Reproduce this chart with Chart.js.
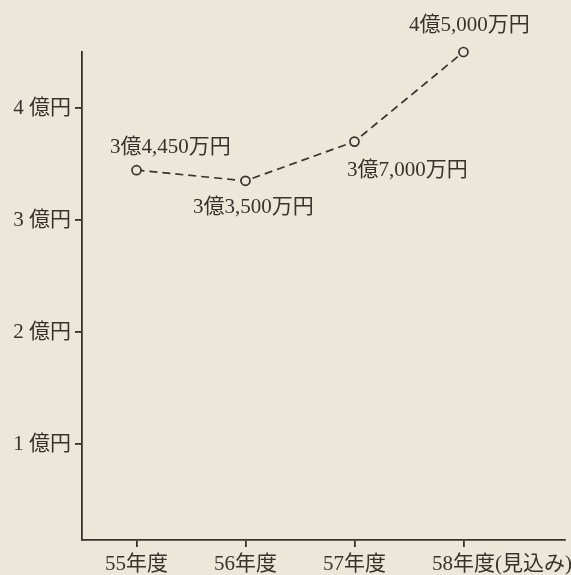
<!DOCTYPE html>
<html lang="ja">
<head>
  <meta charset="UTF-8">
  <title>年度別推移</title>
  <script src="https://cdn.jsdelivr.net/npm/chart.js"></script>
  <style>
    html, body { margin: 0; padding: 0; background: #ece7d8; }
    #wrap { width: 571px; height: 575px; position: relative; }
  </style>
</head>
<body>
  <div id="wrap"><canvas id="c"></canvas></div>
  <script>
    // 年度
    const years = ['55年度', '56年度', '57年度', '58年度'];
    const yearNotes = ['', '', '', '(見込み)'];
    // 金額 (億円)
    const amounts = [3.445, 3.35, 3.7, 4.5];
    const amountLabels = ['3億4,450万円', '3億3,500万円', '3億7,000万円', '4億5,000万円'];
    const yTicks = [1, 2, 3, 4];

    const ink = '#38322c';
    const bg = '#ece7d8';
    const font = '"Liberation Serif", "Noto Sans CJK JP", serif';

    // label offsets from each point (px)
    const labelOffsets = [[34, -23], [8, 27], [53, 29], [6, -27]];

    const valueLabels = {
      id: 'valueLabels',
      afterDatasetsDraw(chart) {
        const ctx = chart.ctx;
        const pts = chart.getDatasetMeta(0).data;
        ctx.save();
        ctx.font = '21px ' + font;
        ctx.fillStyle = ink;
        ctx.textAlign = 'center';
        ctx.textBaseline = 'middle';
        pts.forEach((p, i) => {
          ctx.fillText(amountLabels[i], p.x + labelOffsets[i][0], p.y + labelOffsets[i][1]);
        });
        ctx.restore();
      }
    };

    const yearLabels = {
      id: 'yearLabels',
      afterDraw(chart) {
        const ctx = chart.ctx;
        const xs = chart.scales.x;
        ctx.save();
        ctx.font = '21px ' + font;
        ctx.fillStyle = ink;
        ctx.textAlign = 'left';
        ctx.textBaseline = 'top';
        years.forEach((y, i) => {
          const px = xs.getPixelForValue(i);
          const w = ctx.measureText(y).width;
          ctx.fillText(y + yearNotes[i], px - w / 2, xs.top + 14);
        });
        ctx.restore();
      }
    };

    new Chart(document.getElementById('c'), {
      type: 'line',
      data: {
        datasets: [{
          data: amounts.map((v, i) => ({ x: i, y: v })),
          borderColor: ink,
          borderWidth: 1.7,
          borderDash: [8, 5],
          pointRadius: 4.5,
          pointBorderWidth: 1.7,
          pointBackgroundColor: bg,
          pointBorderColor: ink,
          clip: false,
          tension: 0
        }]
      },
      options: {
        responsive: true,
        maintainAspectRatio: false,
        animation: false,
        layout: { padding: { top: 52, right: 0, left: 0, bottom: 0 } },
        plugins: { legend: { display: false }, tooltip: { enabled: false } },
        scales: {
          x: {
            type: 'linear',
            min: -0.5,
            max: 3.93,
            afterBuildTicks: s => { s.ticks = years.map((_, i) => ({ value: i })); },
            afterFit: s => { s.height = 35; },
            grid: { drawOnChartArea: false, drawTicks: true, tickLength: 7, color: ink, lineWidth: 1.8 },
            border: { color: ink, width: 1.8 },
            ticks: { display: false }
          },
          y: {
            min: 0.143,
            max: 4.5,
            afterBuildTicks: s => { s.ticks = yTicks.map(v => ({ value: v })); },
            afterFit: s => { s.width = 82; },
            grid: { drawOnChartArea: false, drawTicks: true, tickLength: 7, color: ink, lineWidth: 1.8 },
            border: { color: ink, width: 1.8 },
            ticks: {
              color: ink,
              padding: 4,
              font: { family: font, size: 21 },
              callback: v => v + ' 億円'
            }
          }
        }
      },
      plugins: [valueLabels, yearLabels]
    });
  </script>
</body>
</html>
